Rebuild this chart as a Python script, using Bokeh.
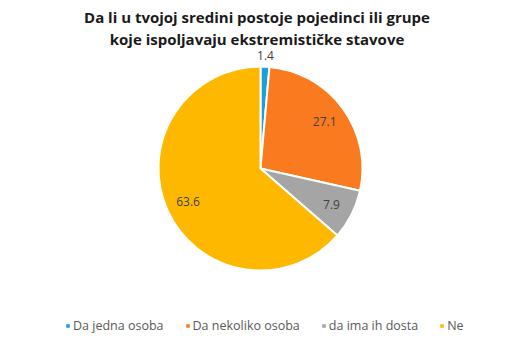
import math
from bokeh.plotting import figure
from bokeh.models import Range1d, Label, Legend, LegendItem, ColumnDataSource
from bokeh.core.properties import value
from bokeh.embed import file_html
from bokeh.resources import INLINE

title_lines = ["Da li u tvojoj sredini postoje pojedinci ili grupe",
               "koje ispoljavaju ekstremističke stavove"]
categories = ["Da jedna osoba", "Da nekoliko osoba", "da ima ih dosta", "Ne"]
values = [1.4, 27.1, 7.9, 63.6]
colors = ["#1AA0DA", "#F97A1F", "#A5A5A5", "#FFB800"]

W, H = 511, 353
p = figure(width=W, height=H, output_backend="svg", toolbar_location=None,
           x_range=Range1d(0, W), y_range=Range1d(0, H), min_border=0)
p.axis.visible = False
p.grid.visible = False
p.outline_line_color = None
p.background_fill_color = "white"

cx, cy, R = 260, 185, 102
total = sum(values)
starts, ends, lx, ly = [], [], [], []
a = math.pi / 2
for i, v in enumerate(values):
    span = v / total * 2 * math.pi
    starts.append(a)
    ends.append(a - span)
    mid = a - span / 2
    r = R * 1.11 if v < 3 else R * 0.78
    lx.append(cx + r * math.cos(mid))
    ly.append(cy + r * math.sin(mid))
    a -= span

src = ColumnDataSource(dict(lx=lx, ly=ly, lab=[f"{v:.1f}" for v in values]))
renderers = []
for i in range(len(values)):
    r = p.wedge(x=cx, y=cy, radius=R, start_angle=starts[i], end_angle=ends[i],
                direction="clock", fill_color=colors[i], line_color="white", line_width=2)
    renderers.append(r)

p.text(x="lx", y="ly", text="lab", source=src, text_align="center", text_baseline="middle",
       text_font=value("Open Sans"), text_font_size="12px", text_color="#404040")

for j, t in enumerate(title_lines):
    p.add_layout(Label(x=W / 2 + 1, y=H - 16 - j * 22, x_units="screen", y_units="screen",
                       text=t, text_align="center", text_baseline="middle",
                       text_font="Open Sans", text_font_size="15px", text_font_style="bold",
                       text_color="#1a1a1a"))

legend = Legend(items=[LegendItem(label=categories[i], renderers=[renderers[i]]) for i in range(4)],
                orientation="horizontal", location=(64, 19),
                label_text_font="Open Sans", label_text_font_size="12.5px", label_text_color="#595959",
                glyph_width=7, glyph_height=7, spacing=20, label_standoff=2,
                border_line_color=None, background_fill_alpha=0, padding=0, margin=0)
p.add_layout(legend)

open("out.html", "w").write(file_html(p, INLINE))
